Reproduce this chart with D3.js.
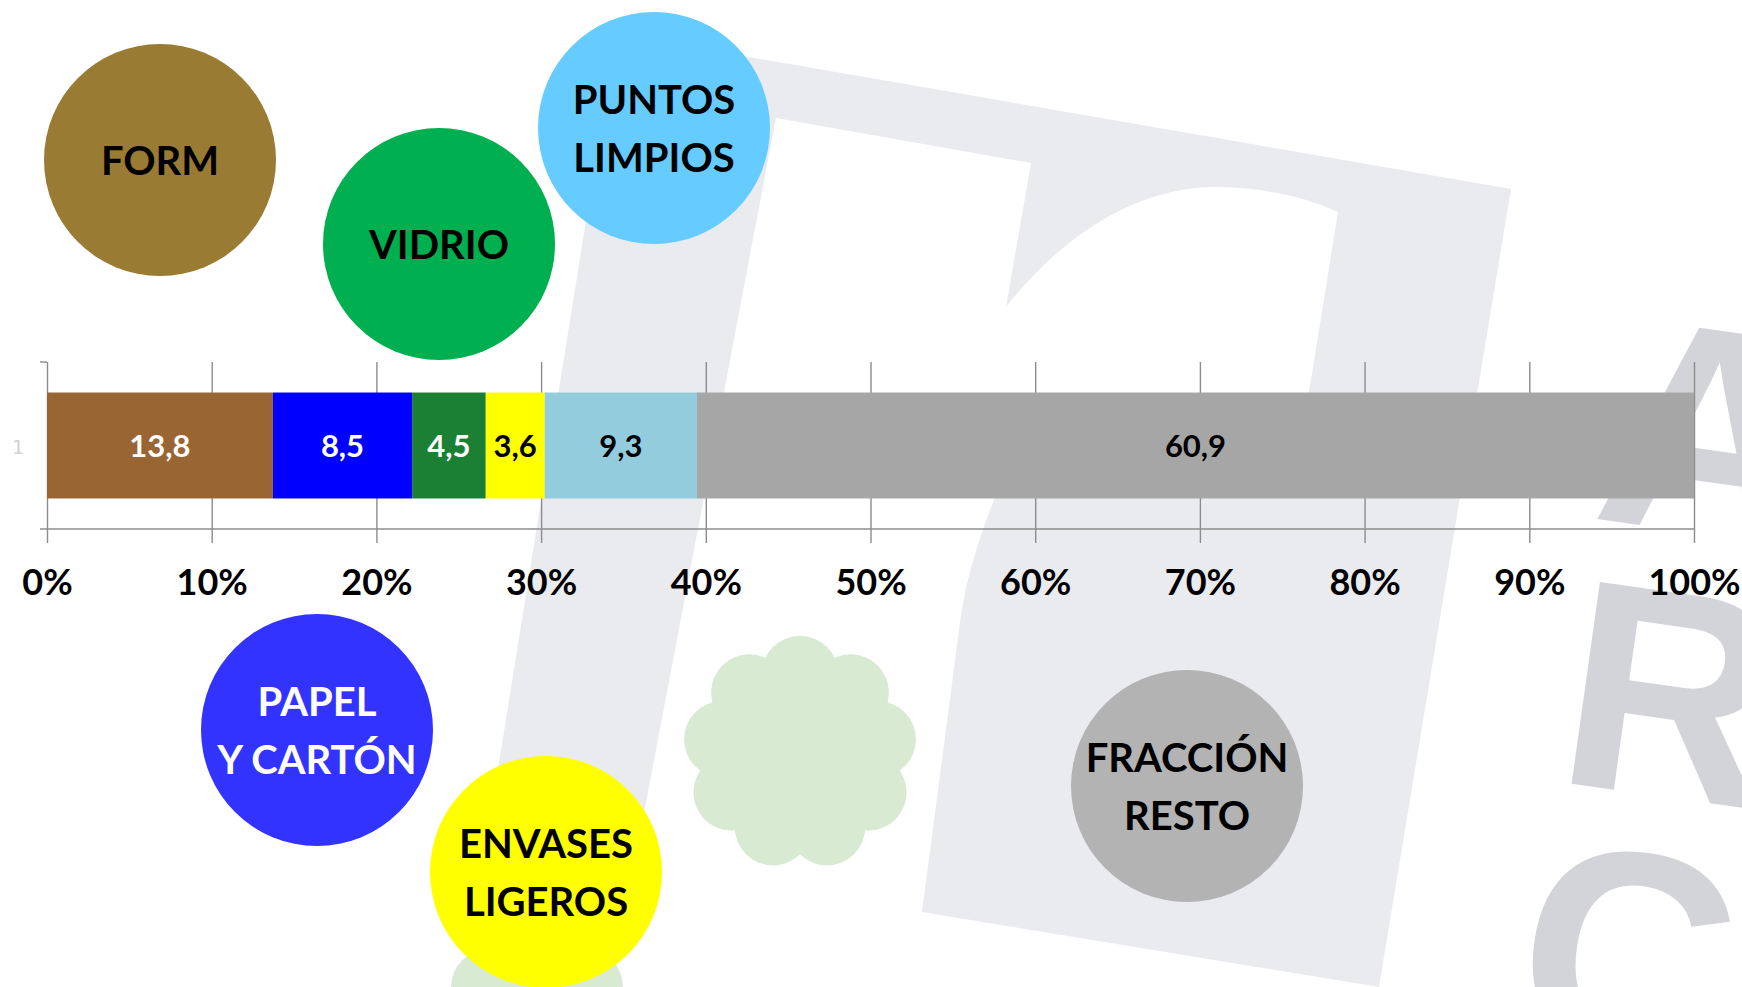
<!DOCTYPE html>
<html><head><meta charset="utf-8">
<script src="https://cdn.jsdelivr.net/npm/d3@7"></script>
<style>html,body{margin:0;padding:0;background:#fff;overflow:hidden} svg{display:block}</style>
</head><body>
<svg id="chart" width="1742" height="987"></svg>
<script>
// ---------- data ----------
const categories = ["FORM", "PAPEL Y CARTÓN", "VIDRIO", "ENVASES LIGEROS", "PUNTOS LIMPIOS", "FRACCIÓN RESTO"];
const values = [13.8, 8.5, 4.5, 3.6, 9.3, 60.9];
const valueLabels = ["13,8", "8,5", "4,5", "3,6", "9,3", "60,9"];
const seriesRow = ["1"];
const tickValues = [0, 10, 20, 30, 40, 50, 60, 70, 80, 90, 100];
const tickLabels = ["0%", "10%", "20%", "30%", "40%", "50%", "60%", "70%", "80%", "90%", "100%"];
const bubbleLines = [["FORM"], ["PAPEL", "Y CARTÓN"], ["VIDRIO"], ["ENVASES", "LIGEROS"], ["PUNTOS", "LIMPIOS"], ["FRACCIÓN", "RESTO"]];

// ---------- styles / layout ----------
const barColors = ["#996633", "#0000FF", "#1B8033", "#FFFF00", "#93CDDD", "#A6A6A6"];
const barTextColors = ["#FFFFFF", "#FFFFFF", "#FFFFFF", "#000000", "#000000", "#000000"];
const bubbleColors = ["#9A7B34", "#3333FF", "#00B050", "#FFFF00", "#66CCFF", "#B3B3B3"];
const bubbleTextColors = ["#000000", "#FFFFFF", "#000000", "#000000", "#000000", "#000000"];
const bubblePos = [[160, 160], [317, 730], [439, 244], [546, 872], [654, 128], [1187, 786]];
const bubbleR = 116;

const svg = d3.select("#chart");
const plot = {left: 47, right: 1694, top: 362, bottom: 529};

// ---------- watermark background ----------
const bg = svg.append("g");
bg.append("path").attr("d", "M616,34 L1511,189 L1379,987 L463,987 Z").attr("fill", "#EAEBEF");
bg.append("path")
  .attr("d", "M776,118 L1031,163 L1006,307 C1060,238 1135,186 1218,187 C1268,188 1308,198 1338,212 L1311,380 L1295,470 L1000,470 L994,500 C982,530 968,570 961,615 L922,912 L1379,987 L611,987 Z")
  .attr("fill", "#FFFFFF");
const wmLetters = [["A", 1590, 518], ["R", 1552, 781], ["C", 1508, 1042]];
bg.selectAll("text.wm").data(wmLetters).join("text")
  .attr("class", "wm")
  .attr("transform", d => `translate(${d[1]},${d[2]}) rotate(8)`)
  .attr("font-family", "'Liberation Sans', Arial, sans-serif")
  .attr("font-weight", "bold")
  .attr("font-size", 296)
  .attr("fill", "#D3D4D9")
  .text(d => d[0]);
function flower(cx, cy, R) {
  const g = bg.append("g").attr("fill", "#D9EAD3");
  g.append("circle").attr("cx", cx).attr("cy", cy).attr("r", R * 0.74);
  d3.range(9).forEach(i => {
    const a = -Math.PI / 2 + i * 2 * Math.PI / 9;
    g.append("circle").attr("cx", cx + Math.cos(a) * R * 0.68).attr("cy", cy + Math.sin(a) * R * 0.68).attr("r", R * 0.33);
  });
}
flower(800, 753, 116);
flower(537, 1045, 112);

// ---------- scales ----------
const x = d3.scaleLinear().domain([0, 100]).range([plot.left, plot.right]);
const y = d3.scaleBand().domain(seriesRow).range([plot.top, plot.bottom]).paddingInner(0).paddingOuter(0.288);

// ---------- grid + bottom axis ----------
const tickLen = 14;
const axisG = svg.append("g").attr("transform", `translate(0,${plot.top})`)
  .call(d3.axisBottom(x).tickValues(tickValues).tickSize(plot.bottom - plot.top + tickLen).tickSizeOuter(0)
    .tickFormat((d, i) => tickLabels[i]));
axisG.select(".domain").remove();
axisG.selectAll(".tick line").attr("stroke", "#8C8C8C").attr("stroke-width", 1.4);
axisG.selectAll(".tick text")
  .attr("y", 595 - plot.top).attr("dy", 0)
  .attr("font-family", "Lato, sans-serif").attr("font-weight", "bold")
  .attr("font-size", 36).attr("fill", "#000");

// axis lines
svg.append("line").attr("x1", plot.left - 7).attr("x2", plot.right).attr("y1", plot.bottom).attr("y2", plot.bottom)
  .attr("stroke", "#8C8C8C").attr("stroke-width", 1.6);
svg.append("line").attr("x1", plot.left - 7).attr("x2", plot.left).attr("y1", plot.top).attr("y2", plot.top)
  .attr("stroke", "#8C8C8C").attr("stroke-width", 1.4);

// category label
svg.selectAll("text.cat").data(seriesRow).join("text").attr("class", "cat")
  .attr("x", 18).attr("y", d => y(d) + y.bandwidth() / 2 + 8)
  .attr("text-anchor", "middle")
  .attr("font-family", "'DejaVu Sans', sans-serif").attr("font-size", 20).attr("fill", "#D2D2D2")
  .text(d => d);

// ---------- stacked bar ----------
const row = {};
categories.forEach((c, i) => row[c] = values[i]);
const stacked = d3.stack().keys(categories).offset(d3.stackOffsetExpand)([row]);
const segs = stacked.map((s, i) => ({i, x0: s[0][0] * 100, x1: s[0][1] * 100}));

svg.selectAll("rect.seg").data(segs).join("rect").attr("class", "seg")
  .attr("x", d => x(d.x0)).attr("width", d => x(d.x1) - x(d.x0))
  .attr("y", y(seriesRow[0])).attr("height", y.bandwidth())
  .attr("fill", d => barColors[d.i]);

svg.selectAll("text.val").data(segs).join("text").attr("class", "val")
  .attr("x", d => (x(d.x0) + x(d.x1)) / 2)
  .attr("y", y(seriesRow[0]) + y.bandwidth() / 2 + 11)
  .attr("text-anchor", "middle")
  .attr("font-family", "Lato, sans-serif").attr("font-weight", "bold")
  .attr("font-size", 31)
  .attr("fill", d => barTextColors[d.i])
  .text(d => valueLabels[d.i]);

// ---------- bubbles ----------
const bub = svg.selectAll("g.bub").data(categories.map((c, i) => i)).join("g").attr("class", "bub")
  .attr("transform", i => `translate(${bubblePos[i][0]},${bubblePos[i][1]})`);
bub.append("circle").attr("r", bubbleR).attr("fill", i => bubbleColors[i]);
bub.each(function (i) {
  const lines = bubbleLines[i];
  const lh = 58;
  const start = -(lines.length - 1) * lh / 2 + 15;
  d3.select(this).selectAll("text").data(lines).join("text")
    .attr("x", 0).attr("y", (d, k) => start + k * lh)
    .attr("text-anchor", "middle")
    .attr("font-family", "Lato, sans-serif").attr("font-weight", "bold")
    .attr("font-size", 40)
    .attr("fill", bubbleTextColors[i])
    .text(d => d);
});
</script>
</body></html>
